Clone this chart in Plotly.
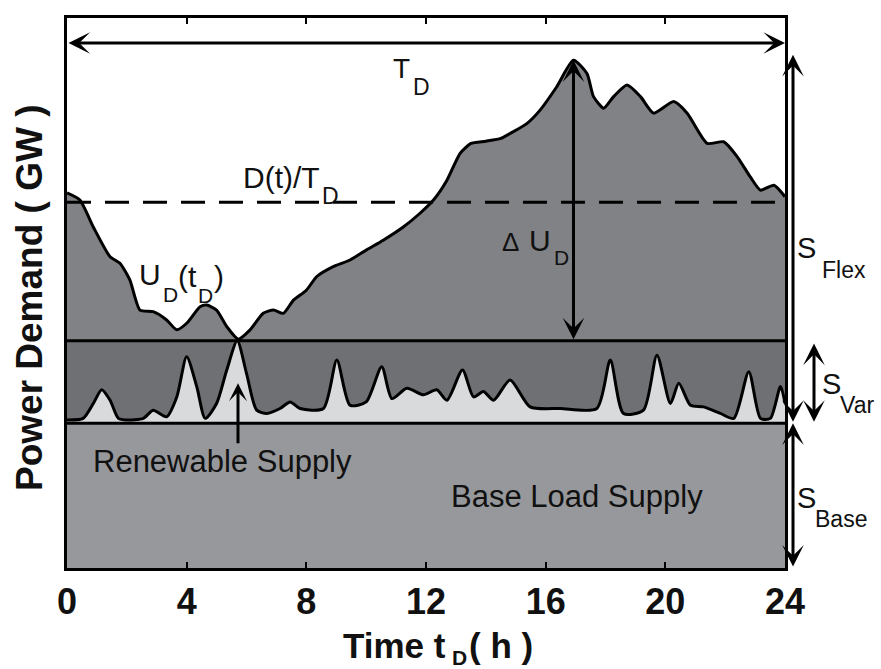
import plotly.graph_objects as go

# ---------------- data ----------------
hours_demand = [0, 0.43, 0.88, 1.44, 1.77, 2.1, 2.44, 2.88, 3.33, 3.67, 4.0, 4.45, 4.67, 5.0,
                5.34, 5.73, 6.12, 6.56, 6.9, 7.23, 7.57, 8.0, 8.35, 8.9, 9.46, 10.0, 10.57,
                11.24, 11.8, 12.25, 12.7, 13.14, 13.5, 14.0, 14.5, 14.81, 15.37, 15.82, 16.37,
                16.93, 17.38, 17.6, 17.94, 18.27, 18.72, 19.17, 19.61, 20.28, 20.73, 21.4,
                21.95, 22.4, 22.84, 23.18, 23.63, 24.0]
demand_u = [68.2, 66.9, 62.0, 56.6, 55.4, 52.4, 46.9, 46.6, 45.1, 43.3, 44.5, 47.5, 47.8, 46.9,
            43.9, 41.6, 43.3, 46.3, 46.9, 46.3, 48.7, 50.5, 53.0, 54.8, 56.0, 57.8, 59.6,
            62.0, 64.5, 66.9, 70.5, 75.4, 77.2, 77.6, 78.1, 79.0, 80.8, 83.3, 87.5,
            92.3, 89.9, 85.7, 83.6, 85.7, 87.8, 85.7, 82.7, 84.8, 82.7, 77.2,
            77.5, 74.8, 71.1, 68.7, 69.6, 67.5]

hours_renew = [0, 0.54, 0.88, 1.16, 1.44, 1.72, 2.0, 2.55, 2.88, 3.33, 3.67, 4.0, 4.34, 4.62,
               5.0, 5.34, 5.69, 6.0, 6.34, 6.68, 7.12, 7.46, 7.79, 8.57, 9.02, 9.46, 10.0,
               10.52, 10.86, 11.36, 11.91, 12.36, 12.7, 13.22, 13.59, 13.92, 14.26, 14.81,
               15.48, 16.49, 17.71, 18.16, 18.6, 19.27, 19.72, 20.17, 20.45, 20.84, 21.28,
               21.84, 22.29, 22.79, 23.18, 23.51, 23.85, 24.0]
renewable = [26.9, 27.2, 29.9, 32.4, 30.5, 27.2, 26.9, 27.2, 28.7, 27.5, 31.1, 38.4, 32.9, 27.2,
             29.9, 36.0, 41.3, 35.4, 28.7, 28.1, 29.0, 30.2, 29.0, 29.0, 37.8, 29.6, 30.2,
             36.6, 30.8, 32.7, 31.5, 32.4, 30.5, 36.0, 31.1, 32.1, 30.5, 34.2,
             29.3, 29.0, 29.0, 37.8, 28.1, 28.7, 38.7, 29.9, 33.6, 29.6, 29.3,
             28.1, 27.2, 35.7, 27.2, 27.2, 33.0, 30.0]

span_hours = [0, 24]
base_level = 26.3       # base load supply level
var_level = 41.3        # base + variable supply level
mean_level = 66.5       # D(t)/T_D
peak_hour = 16.93
peak_level = 92.3
x_ticks = [0, 4, 8, 12, 16, 20, 24]

# ---------------- style ----------------
C_BASE = "#97989b"
C_VAR = "#6f7073"
C_FLEX = "#818285"
C_RENEW = "#d9dadc"
FONT = "Liberation Sans, Arial, sans-serif"

W, H = 881, 669
L, R, T, B = 67, 96, 18, 101
PW, PH = W - L - R, H - T - B


def px(xp):
    return (xp - L) / PW


def py(yp):
    return (H - B - yp) / PH


fig = go.Figure()
fig.add_trace(go.Scatter(x=span_hours, y=[base_level] * 2, fill="tozeroy", fillcolor=C_BASE,
                         mode="lines", line=dict(width=0)))
fig.add_trace(go.Scatter(x=span_hours, y=[var_level] * 2, fill="tonexty", fillcolor=C_VAR,
                         mode="lines", line=dict(width=0)))
fig.add_trace(go.Scatter(x=span_hours, y=[base_level] * 2, mode="lines", line=dict(width=0)))
fig.add_trace(go.Scatter(x=hours_renew, y=renewable, fill="tonexty", fillcolor=C_RENEW,
                         mode="lines", line=dict(color="black", width=3, shape="spline",
                                                 smoothing=0.7)))
fig.add_trace(go.Scatter(x=span_hours, y=[var_level] * 2, mode="lines", line=dict(width=0)))
fig.add_trace(go.Scatter(x=hours_demand, y=demand_u, fill="tonexty", fillcolor=C_FLEX,
                         mode="lines", line=dict(color="black", width=3, shape="spline",
                                                 smoothing=0.6)))
fig.add_trace(go.Scatter(x=span_hours, y=[base_level] * 2, mode="lines",
                         line=dict(color="black", width=3)))
fig.add_trace(go.Scatter(x=span_hours, y=[var_level] * 2, mode="lines",
                         line=dict(color="black", width=3)))
fig.add_trace(go.Scatter(x=span_hours, y=[mean_level] * 2, mode="lines",
                         line=dict(color="black", width=3, dash="24px,14px")))

ann = []


def arrow_data(x, y, ax, ay, size=1.2, both=True, head=3):
    ann.append(dict(x=x, y=y, ax=ax, ay=ay, xref="x", yref="y", axref="x", ayref="y",
                    text="", showarrow=True, arrowhead=head, arrowsize=size, arrowwidth=3,
                    arrowcolor="black", standoff=0, startstandoff=0,
                    arrowside="end+start" if both else "end",
                    startarrowhead=head, startarrowsize=size))


def arrow_paper(xp, y, ay, size=1.2):
    ann.append(dict(x=px(xp), y=y, ax=0, ay=ay, xref="paper", yref="y", axref="pixel",
                    ayref="y", text="", showarrow=True, arrowhead=3, arrowsize=size,
                    arrowwidth=3, arrowcolor="black", standoff=0, startstandoff=0,
                    arrowside="end+start", startarrowhead=3, startarrowsize=size))


def label(text, xp, yp, size, xanchor="center", bold=False, angle=0):
    ann.append(dict(x=px(xp), y=py(yp), xref="paper", yref="paper", text=text,
                    showarrow=False, xanchor=xanchor, yanchor="middle", textangle=angle,
                    borderpad=0,
                    font=dict(family=FONT, size=size, color="#111111",
                              weight="bold" if bold else "normal")))


# arrows inside the plot
arrow_data(24, 95.45, 0, 95.45)                       # T_D
arrow_data(peak_hour, peak_level, peak_hour, var_level)  # Delta U_D
arrow_data(5.716, 33.6, 5.716, 22.4, size=1.0, both=False)  # renewable pointer
# arrows at right side
arrow_paper(793, peak_level + 1, base_level)          # S_Flex
arrow_paper(793, base_level, 0)                       # S_Base
arrow_paper(814, var_level - 0.5, base_level)         # S_Var

# text labels
label("T", 401, 68, 28)
label("D", 421, 87, 23)
label("D(t)/T", 242, 177, 30, xanchor="left")
label("D", 330, 196, 23)
label("U", 150, 274, 30)
label("D", 170, 294, 21)
label("(t", 177, 276, 30, xanchor="left")
label("D", 205, 295, 21)
label(")", 213, 276, 30, xanchor="left")
label("\u0394", 510, 242, 26)
label("U", 540, 241, 30)
label("D", 561, 257, 21)
label("S", 806, 248, 29)
label("Flex", 821, 270, 23, xanchor="left")
label("S", 831, 384, 29)
label("Var", 839, 405, 23, xanchor="left")
label("S", 806, 498, 29)
label("Base", 814, 519, 23, xanchor="left")
label("Renewable Supply", 92, 461, 31, xanchor="left")
label("Base Load Supply", 450, 496, 31, xanchor="left")
# axis titles
label("Power Demand ( GW )", 30, 298, 37, bold=True, angle=-90)
label("Time t", 447, 645, 35, xanchor="right", bold=True)
label("D", 451, 657, 21, xanchor="left", bold=True)
label("( h )", 468, 645, 35, xanchor="left", bold=True)

fig.update_layout(
    width=W, height=H, margin=dict(l=L, r=R, t=T, b=B),
    paper_bgcolor="white", plot_bgcolor="white", showlegend=False, hovermode=False,
    annotations=ann,
    xaxis=dict(range=[0, 24], tickvals=x_ticks, ticktext=[str(v) for v in x_ticks],
               ticks="inside", ticklen=6, tickwidth=2, tickcolor="black",
               showline=True, linewidth=3, linecolor="black", mirror="allticks",
               showgrid=False, zeroline=False,
               tickfont=dict(family=FONT, size=36, color="#111111", weight="bold")),
    yaxis=dict(range=[0, 100], showticklabels=False, ticks="", showline=True, linewidth=3,
               linecolor="black", mirror=True, showgrid=False, zeroline=False),
)

fig.write_html("out.html")
